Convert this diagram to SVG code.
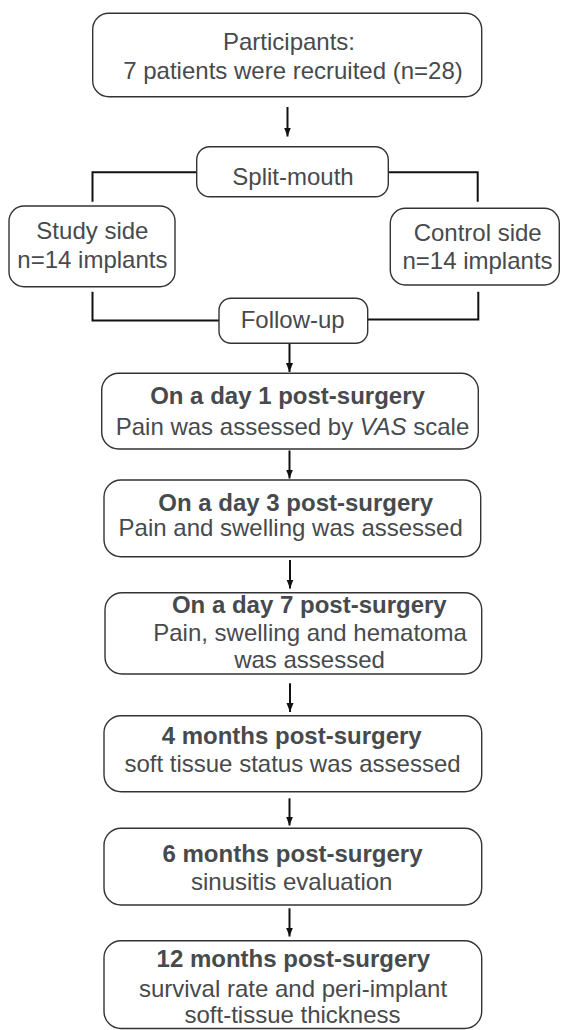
<svg xmlns="http://www.w3.org/2000/svg" width="561" height="1030" viewBox="0 0 561 1030">
<defs>
<marker id="ah" markerUnits="userSpaceOnUse" markerWidth="10" markerHeight="8" refX="9" refY="3.5" orient="auto">
<path d="M0,0 L9,3.5 L0,7 z" fill="#111"/>
</marker>
<style>
.box{fill:#fff;stroke:#333;stroke-width:1.4}
.t{font-family:"Liberation Sans",Arial,Helvetica,sans-serif;font-size:24px;fill:#474a4d;text-anchor:middle}
.b{font-weight:bold}
.c{fill:none;stroke:#111;stroke-width:2}
</style>
</defs>
<rect width="561" height="1030" fill="#fff"/>
<g id="connectors">
<path class="c" d="M196.7,172.3 H92.5 V201.7"/>
<path class="c" d="M388.3,172.3 H477.7 V201.7"/>
<path class="c" d="M92.5,291.7 V320.5 H219"/>
<path class="c" d="M478.3,291.7 V319.5 H367.7"/>
<line class="c" x1="287.5" y1="107" x2="287.5" y2="136.5" marker-end="url(#ah)"/>
<line class="c" x1="289.5" y1="343.3" x2="289.5" y2="372" marker-end="url(#ah)"/>
<line class="c" x1="289.5" y1="450.5" x2="289.5" y2="478.5" marker-end="url(#ah)"/>
<line class="c" x1="290" y1="560" x2="290" y2="588.5" marker-end="url(#ah)"/>
<line class="c" x1="290" y1="683.3" x2="290" y2="712" marker-end="url(#ah)"/>
<line class="c" x1="289.5" y1="798.3" x2="289.5" y2="825.5" marker-end="url(#ah)"/>
<line class="c" x1="289.5" y1="908.3" x2="289.5" y2="936.5" marker-end="url(#ah)"/>
</g>
<g id="participants">
<rect class="box" x="92.7" y="13.3" width="389" height="83.4" rx="16"/>
<text class="t" x="289" y="50">Participants:</text>
<text class="t" x="293" y="79.3">7 patients were recruited (n=28)</text>
</g>
<g id="split-mouth">
<rect class="box" x="196.7" y="146.7" width="191.6" height="50" rx="13"/>
<text class="t" x="293" y="185">Split-mouth</text>
</g>
<g id="study-side">
<rect class="box" x="9" y="206" width="166" height="80.7" rx="15"/>
<text class="t" x="92.4" y="239.3">Study side</text>
<text class="t" x="92.4" y="268.3">n=14 implants</text>
</g>
<g id="control-side">
<rect class="box" x="390.3" y="208.3" width="169" height="76.7" rx="15"/>
<text class="t" x="477.7" y="240.7">Control side</text>
<text class="t" x="477.5" y="269">n=14 implants</text>
</g>
<g id="follow-up">
<rect class="box" x="219" y="298.3" width="148.7" height="45" rx="12"/>
<text class="t" x="292.7" y="328.3">Follow-up</text>
</g>
<g id="day1">
<rect class="box" x="101.7" y="373.3" width="376.6" height="75.7" rx="17"/>
<text class="t b" x="287.5" y="404">On a day 1 post-surgery</text>
<text class="t" x="292.5" y="435">Pain was assessed by <tspan font-style="italic">VAS</tspan> scale</text>
</g>
<g id="day3">
<rect class="box" x="104" y="480" width="376.7" height="76.7" rx="17"/>
<text class="t b" x="295.7" y="510.7">On a day 3 post-surgery</text>
<text class="t" x="290.7" y="536">Pain and swelling was assessed</text>
</g>
<g id="day7">
<rect class="box" x="105" y="592.7" width="376.7" height="81.3" rx="17"/>
<text class="t b" x="309.3" y="613.3">On a day 7 post-surgery</text>
<text class="t" x="310" y="640.7">Pain, swelling and hematoma</text>
<text class="t" x="309.5" y="668.3">was assessed</text>
</g>
<g id="month4">
<rect class="box" x="104" y="715.7" width="377.7" height="76" rx="17"/>
<text class="t b" x="291.7" y="744">4 months post-surgery</text>
<text class="t" x="292.5" y="771.7">soft tissue status was assessed</text>
</g>
<g id="month6">
<rect class="box" x="104" y="828.3" width="377.7" height="76.7" rx="17"/>
<text class="t b" x="292.5" y="861.7">6 months post-surgery</text>
<text class="t" x="291.7" y="890">sinusitis evaluation</text>
</g>
<g id="month12">
<rect class="box" x="104" y="940.7" width="377.7" height="87.8" rx="17"/>
<text class="t b" x="293.3" y="966.7">12 months post-surgery</text>
<text class="t" x="293" y="996.7">survival rate and peri-implant</text>
<text class="t" x="292.5" y="1023.3">soft-tissue thickness</text>
</g>
</svg>
